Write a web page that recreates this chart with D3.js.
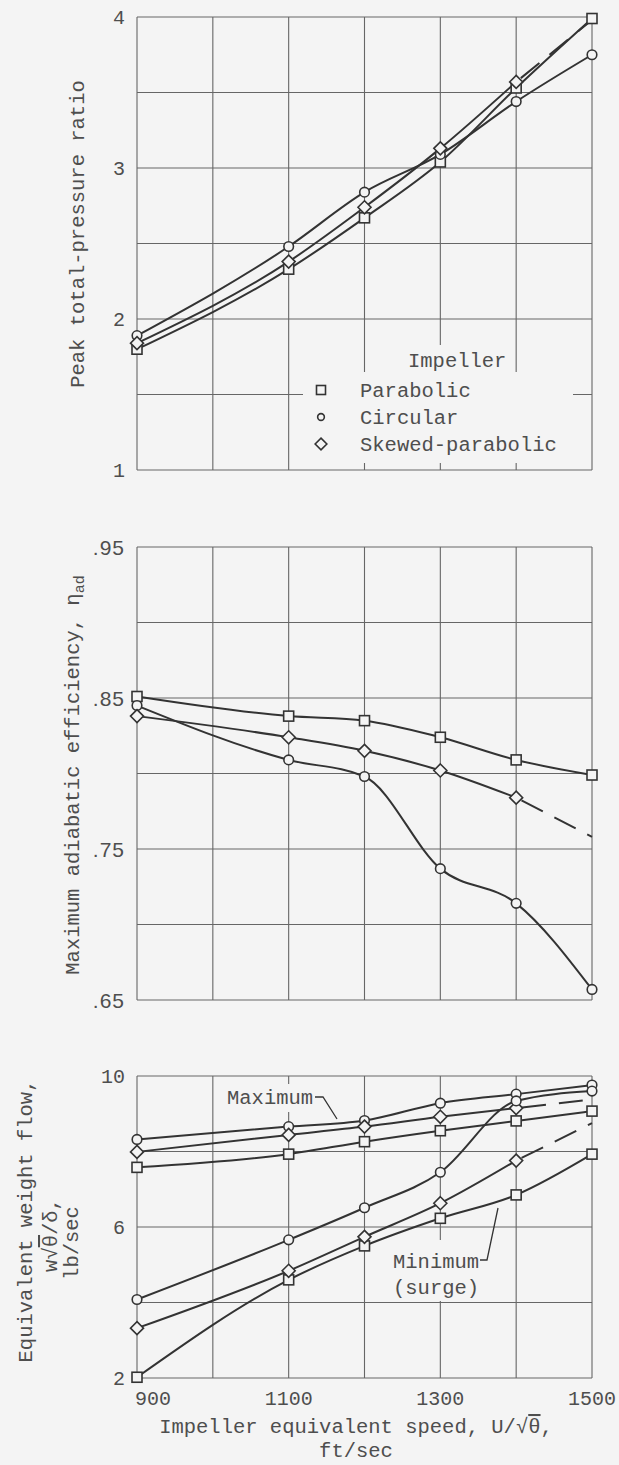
<!DOCTYPE html>
<html>
<head>
<meta charset="utf-8">
<script src="https://cdn.jsdelivr.net/npm/d3@7"></script>
<style>
  html, body { margin: 0; padding: 0; background: #f4f4f4; }
  svg { display: block; }
  text { font-family: "Liberation Mono", "DejaVu Sans Mono", monospace; fill: #4e4e4e; }
</style>
</head>
<body>
<div id="chart"></div>
<script>
// ---- data ----
var speeds = [900, 1100, 1200, 1300, 1400, 1500];
var speedTicks = [900, 1100, 1300, 1500];

// peak total-pressure ratio
var pressureParabolic = [1.80, 2.33, 2.67, 3.04, 3.53, 3.99];
var pressureCircular  = [1.89, 2.48, 2.84, 3.09, 3.44, 3.75];
var pressureSkewed    = [1.84, 2.38, 2.74, 3.13, 3.57];
var pressureSkewedEnd = 3.98;            // dashed to 1500
var pressureTicks = [1, 2, 3, 4];

// maximum adiabatic efficiency
var effParabolic = [0.851, 0.838, 0.835, 0.824, 0.809, 0.799];
var effCircular  = [0.845, 0.809, 0.798, 0.737, 0.714, 0.657];
var effSkewed    = [0.838, 0.824, 0.815, 0.802, 0.784];
var effSkewedEnd = 0.758;
var effTicks = [0.65, 0.75, 0.85, 0.95];

// equivalent weight flow, maximum and minimum (surge)
var flowMaxParabolic = [7.58, 7.93, 8.26, 8.55, 8.81, 9.07];
var flowMaxCircular  = [8.32, 8.66, 8.82, 9.28, 9.52, 9.76];
var flowMaxSkewed    = [7.99, 8.44, 8.66, 8.92, 9.15];
var flowMaxSkewedEnd = 9.38;
var flowMinParabolic = [2.02, 4.60, 5.50, 6.23, 6.85, 7.93];
var flowMinCircular  = [4.08, 5.66, 6.51, 7.45, 9.34, 9.60];
var flowMinSkewed    = [3.32, 4.84, 5.74, 6.63, 7.76];
var flowMinSkewedEnd = 8.75;
var flowTicks = [2, 6, 10];

var impellers = ["Parabolic", "Circular", "Skewed-parabolic"];
var shapes = { "Parabolic": "square", "Circular": "circle", "Skewed-parabolic": "diamond" };

// ---- layout ----
var W = 619, H = 1465;
var bg = "#f4f4f4", ink = "#333", gridInk = "#666";

var panels = [
  { top: 17, bottom: 470, domain: [1, 4], step: 0.5, ticks: pressureTicks,
    fmt: d3.format("d"), tickFont: "mono",
    series: [
      { name: "Parabolic", values: pressureParabolic },
      { name: "Circular", values: pressureCircular },
      { name: "Skewed-parabolic", values: pressureSkewed, dashEnd: pressureSkewedEnd }
    ] },
  { top: 547, bottom: 1000, domain: [0.65, 0.95], step: 0.05, ticks: effTicks,
    fmt: function(d) { return d3.format(".2f")(d).replace(/^0/, ""); }, tickFont: "sans",
    series: [
      { name: "Parabolic", values: effParabolic },
      { name: "Circular", values: effCircular },
      { name: "Skewed-parabolic", values: effSkewed, dashEnd: effSkewedEnd }
    ] },
  { top: 1076, bottom: 1378, domain: [2, 10], step: 2, ticks: flowTicks,
    fmt: d3.format("d"), tickFont: "mono",
    series: [
      { name: "Parabolic", values: flowMaxParabolic },
      { name: "Circular", values: flowMaxCircular },
      { name: "Skewed-parabolic", values: flowMaxSkewed, dashEnd: flowMaxSkewedEnd },
      { name: "Parabolic", values: flowMinParabolic },
      { name: "Circular", values: flowMinCircular },
      { name: "Skewed-parabolic", values: flowMinSkewed, dashEnd: flowMinSkewedEnd }
    ] }
];

var svg = d3.select("#chart").append("svg")
  .attr("width", W).attr("height", H);
svg.append("rect").attr("width", W).attr("height", H).attr("fill", bg);

var x = d3.scaleLinear().domain([900, 1500]).range([137, 592]);

function marker(sel, shape, size) {
  if (shape === "circle") {
    sel.append("circle").attr("r", size * 0.48);
  } else if (shape === "square") {
    sel.append("rect").attr("x", -size / 2).attr("y", -size / 2)
      .attr("width", size).attr("height", size);
  } else {
    var h = size * 0.65;
    sel.append("path").attr("d", "M0," + (-h) + "L" + h + ",0L0," + h + "L" + (-h) + ",0Z");
  }
}

panels.forEach(function(p) {
  var y = d3.scaleLinear().domain(p.domain).range([p.bottom, p.top]);
  p.y = y;
  var g = svg.append("g");

  // grid
  g.selectAll("line.vg").data(d3.range(900, 1501, 100)).enter().append("line")
    .attr("x1", d => x(d)).attr("x2", d => x(d))
    .attr("y1", p.top).attr("y2", p.bottom)
    .attr("stroke", gridInk).attr("stroke-width", 1.1);
  var n = Math.round((p.domain[1] - p.domain[0]) / p.step);
  g.selectAll("line.hg").data(d3.range(n + 1).map(i => p.domain[0] + i * p.step)).enter().append("line")
    .attr("x1", x(900)).attr("x2", x(1500))
    .attr("y1", d => y(d)).attr("y2", d => y(d))
    .attr("stroke", gridInk).attr("stroke-width", 1.1);

  // y tick labels
  g.selectAll("text.yt").data(p.ticks).enter().append("text")
    .attr("x", x(900) - 12).attr("y", d => y(d)).attr("dy", "0.36em")
    .attr("text-anchor", "end")
    .style("font-family", p.tickFont === "sans" ? "'Liberation Sans', Arial, sans-serif" : null)
    .style("letter-spacing", p.tickFont === "sans" ? "1px" : null)
    .attr("font-size", p.tickFont === "sans" ? 21 : 20)
    .text(p.fmt);

  p.g = g;
});

// ---- knock-out boxes behind legend and annotations ----
var p1 = panels[0], p3 = panels[2];
p1.g.append("rect").attr("x", 303).attr("y", 372).attr("width", 270).attr("height", 91).attr("fill", bg);
p1.g.append("rect").attr("x", 398).attr("y", 345).attr("width", 113).attr("height", 28).attr("fill", bg);
p3.g.append("rect").attr("x", 225).attr("y", 1084).attr("width", 92).attr("height", 28).attr("fill", bg);
p3.g.append("rect").attr("x", 390).attr("y", 1240).attr("width", 92).attr("height", 61).attr("fill", bg);

// ---- curves and markers ----
panels.forEach(function(p) {
  var y = p.y, g = p.g;
  var line = d3.line().x(d => x(d[0])).y(d => y(d[1])).curve(d3.curveMonotoneX);
  p.series.forEach(function(s) {
    var pts = s.values.map((v, i) => [speeds[i], v]);
    g.append("path").attr("d", line(pts))
      .attr("fill", "none").attr("stroke", ink).attr("stroke-width", 2);
    if (s.dashEnd != null) {
      var last = pts[pts.length - 1];
      g.append("path").attr("d", d3.line().x(d => x(d[0])).y(d => y(d[1]))([last, [1500, s.dashEnd]]))
        .attr("fill", "none").attr("stroke", ink).attr("stroke-width", 2)
        .attr("stroke-dasharray", "24,13").attr("stroke-dashoffset", -6);
    }
  });
  p.series.forEach(function(s) {
    var mg = g.selectAll(null).data(s.values.map((v, i) => [speeds[i], v])).enter().append("g")
      .attr("transform", d => "translate(" + x(d[0]) + "," + y(d[1]) + ")")
      .attr("fill", bg).attr("stroke", ink).attr("stroke-width", 1.6);
    marker(mg, shapes[s.name], 10);
  });
});

// ---- legend (panel 1) ----
var lg = p1.g.append("g");
lg.append("text").attr("x", 408).attr("y", 367).attr("font-size", 20.5).text("Impeller");
impellers.forEach(function(name, i) {
  var cy = 390 + i * 27;
  var m = lg.append("g").attr("transform", "translate(321," + cy + ")")
    .attr("fill", bg).attr("stroke", ink).attr("stroke-width", 1.6);
  marker(m, shapes[name], name === "Circular" ? 7 : 9);
  lg.append("text").attr("x", 360).attr("y", cy + 7).attr("font-size", 20.5).text(name);
});

// ---- annotations (panel 3) ----
var ann = p3.g.append("g");
ann.append("text").attr("x", 227).attr("y", 1104).attr("font-size", 20.5).text("Maximum");
ann.append("path").attr("d", d3.line()([[315, 1097], [323, 1097], [337, 1119]]))
  .attr("fill", "none").attr("stroke", ink).attr("stroke-width", 1.3);
ann.append("text").attr("x", 393).attr("y", 1268).attr("font-size", 20.5).text("Minimum");
ann.append("text").attr("x", 393).attr("y", 1294).attr("font-size", 20.5).text("(surge)");
ann.append("path").attr("d", d3.line()([[480, 1260], [487, 1260], [498, 1208]]))
  .attr("fill", "none").attr("stroke", ink).attr("stroke-width", 1.3);

// ---- x tick labels ----
svg.selectAll("text.xt").data(speedTicks).enter().append("text")
  .attr("x", d => x(d) + (d === 900 ? 16 : 0)).attr("y", 1405)
  .attr("text-anchor", "middle").attr("font-size", 20).text(d => d);

// ---- axis titles ----
var xt = svg.append("text").attr("x", 356).attr("y", 1433)
  .attr("text-anchor", "middle").attr("font-size", 20.5);
xt.append("tspan").text("Impeller equivalent speed, U/\u221A");
xt.append("tspan").style("text-decoration", "overline").text("\u03B8");
xt.append("tspan").text(",");
svg.append("text").attr("x", 356).attr("y", 1457)
  .attr("text-anchor", "middle").attr("font-size", 20.5).text("ft/sec");

svg.append("text").attr("transform", "translate(84,234) rotate(-90)")
  .attr("text-anchor", "middle").attr("font-size", 20.5).text("Peak total-pressure ratio");

var et = svg.append("text").attr("transform", "translate(79,775) rotate(-90)")
  .attr("text-anchor", "middle").attr("font-size", 20.5);
et.append("tspan").text("Maximum adiabatic efficiency, \u03B7");
et.append("tspan").attr("dy", 5).attr("font-size", 15).text("ad");

var ft = svg.append("g").attr("transform", "translate(0,1227)");
ft.append("text").attr("transform", "translate(32,-6) rotate(-90)")
  .attr("text-anchor", "middle").attr("font-size", 20.5).text("Equivalent weight flow,");
var w2 = ft.append("text").attr("transform", "translate(57,8) rotate(-90)")
  .attr("text-anchor", "middle").attr("font-size", 20.5);
w2.append("tspan").text("w\u221A");
w2.append("tspan").style("text-decoration", "overline").text("\u03B8");
w2.append("tspan").text("/\u03B4,");
ft.append("text").attr("transform", "translate(78,16) rotate(-90)")
  .attr("text-anchor", "middle").attr("font-size", 20.5).text("lb/sec");
</script>
</body>
</html>
